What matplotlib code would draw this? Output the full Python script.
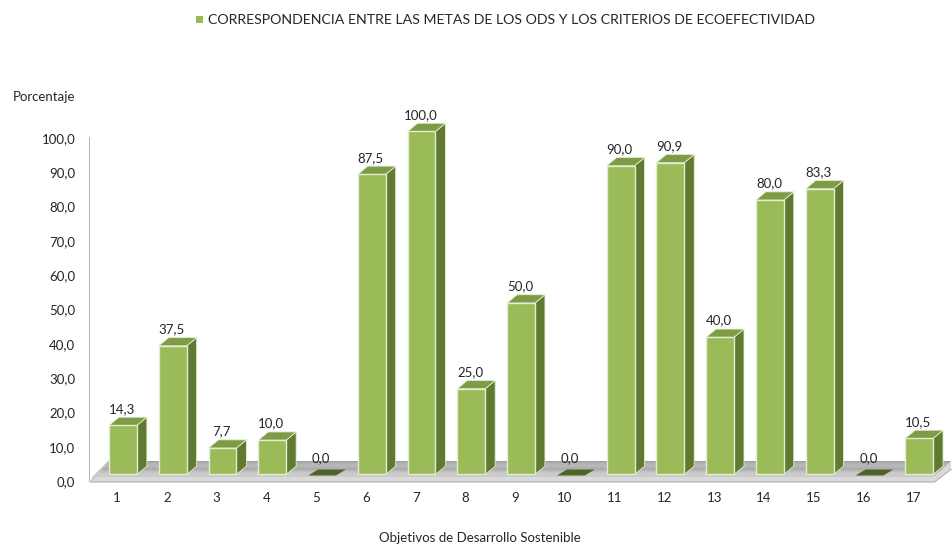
import matplotlib.pyplot as plt
from matplotlib.patches import Polygon, Rectangle
import numpy as np

plt.rcParams['font.family'] = ['Lato', 'DejaVu Sans']

# data
objetivos = [str(i) for i in range(1, 18)]
porcentaje = [14.3, 37.5, 7.7, 10.0, 0.0, 87.5, 100.0, 25.0, 50.0, 0.0,
              90.0, 90.9, 40.0, 80.0, 83.3, 0.0, 10.5]
yticks = [0, 10, 20, 30, 40, 50, 60, 70, 80, 90, 100]

serie = 'CORRESPONDENCIA ENTRE LAS METAS DE LOS ODS Y LOS CRITERIOS DE ECOEFECTIVIDAD'

# colours
c_front = '#9bbb59'
c_top = '#7e9b45'
c_side = '#617a31'
c_zero = '#4f6228'
c_edge = '#e4edd0'

fig = plt.figure(figsize=(9.52, 5.48), dpi=100)
ax = fig.add_axes([89 / 952, 63 / 548, 1 - 89 / 952, 385 / 548])
ax.set_xlim(0.437, 17.78)
ax.set_ylim(-1.17, 111.08)
for s in ax.spines.values():
    s.set_visible(False)

# 3d geometry (data units)
base = 1.9
w = 0.56
shift = 0.12
dx, dy = 0.2, 2.4

# floor
fl_x0, fl_x1 = 0.5, 17.43
fdx, fdy = 0.33, 4.6
ax.add_patch(Polygon([(fl_x0 - 0.03, -0.3), (fl_x1, -0.3), (fl_x1 + fdx, fdy - 1.2),
                      (fl_x1 + fdx, 1.2 + fdy), (fl_x1, 1.2), (fl_x0, 1.2)],
                     closed=True, facecolor='#dadada', edgecolor='none', zorder=1))
ax.plot([fl_x0 - 0.03, fl_x1, fl_x1 + fdx], [-0.3, -0.3, fdy - 1.2], color='#b0b0b0', lw=0.8, zorder=1)
n = 14
for k in range(n):
    t0, t1 = k / n, (k + 1) / n
    y0, y1 = 1.2 + fdy * t0, 1.2 + fdy * t1
    g = 0.76 - 0.18 * t0
    ax.add_patch(Polygon([(fl_x0 + fdx * t0, y0), (fl_x1 + fdx * t0, y0),
                          (fl_x1 + fdx * t1, y1), (fl_x0 + fdx * t1, y1)],
                         closed=True, facecolor=(g, g, g), edgecolor='none', zorder=1))
ax.plot([fl_x0 - 0.03, fl_x0 + fdx], [-0.3, 1.2 + fdy], color='#c8c8c8', lw=1, zorder=1)

# axis line
ax.plot([0.437, 0.437], [0, 100], color='#a6a6a6', lw=1.2, zorder=1)

x = np.arange(1, len(porcentaje) + 1)
for xi, v in zip(x, porcentaje):
    left = xi + shift - w / 2
    right = left + w
    top = base + v
    if v > 0:
        ax.add_patch(Polygon([(right, base), (right + dx, base + dy), (right + dx, top + dy), (right, top)],
                             closed=True, facecolor=c_side, edgecolor=c_edge, lw=0.6, zorder=3))
        ax.add_patch(Polygon([(left, top), (right, top), (right + dx, top + dy), (left + dx, top + dy)],
                             closed=True, facecolor=c_top, edgecolor=c_edge, lw=0.6, zorder=3))
        ax.add_patch(Rectangle((left, base), w, v, facecolor=c_front, edgecolor=c_edge, lw=1.0, zorder=4))
    else:
        ax.add_patch(Polygon([(left, base - 0.3), (right, base - 0.3), (right + dx, base + dy * 0.6),
                              (left + dx, base + dy * 0.6)],
                             closed=True, facecolor=c_zero, edgecolor='none', zorder=3))
    ax.text(xi + 0.1, v + 5.0, f'{v:.1f}'.replace('.', ','), ha='center', va='bottom',
            fontsize=9.5, color='#262626', zorder=5)

ax.set_xticks(x)
ax.set_xticklabels(objetivos, fontsize=9.5, color='#262626')
ax.set_yticks(yticks)
ax.set_yticklabels([f'{t:.1f}'.replace('.', ',') for t in yticks], fontsize=9.5, color='#262626')
ax.tick_params(axis='both', length=0)
ax.tick_params(axis='y', pad=10)
ax.tick_params(axis='x', pad=5)

fig.text(13 / 952, 1 - 97 / 548, 'Porcentaje', fontsize=9.5, color='#262626', va='center')
fig.text(480 / 952, 1 - 538 / 548, 'Objetivos de Desarrollo Sostenible', fontsize=9.5,
         color='#262626', ha='center', va='center')

# legend
fig.patches.append(Rectangle((196 / 952, 1 - 23 / 548), 7 / 952, 7 / 548, facecolor=c_front,
                             edgecolor='none', transform=fig.transFigure, figure=fig))
fig.text(208 / 952, 1 - 19.5 / 548, serie, fontsize=10.2, color='#262626', va='center')

fig.savefig('out.png', dpi=100)
